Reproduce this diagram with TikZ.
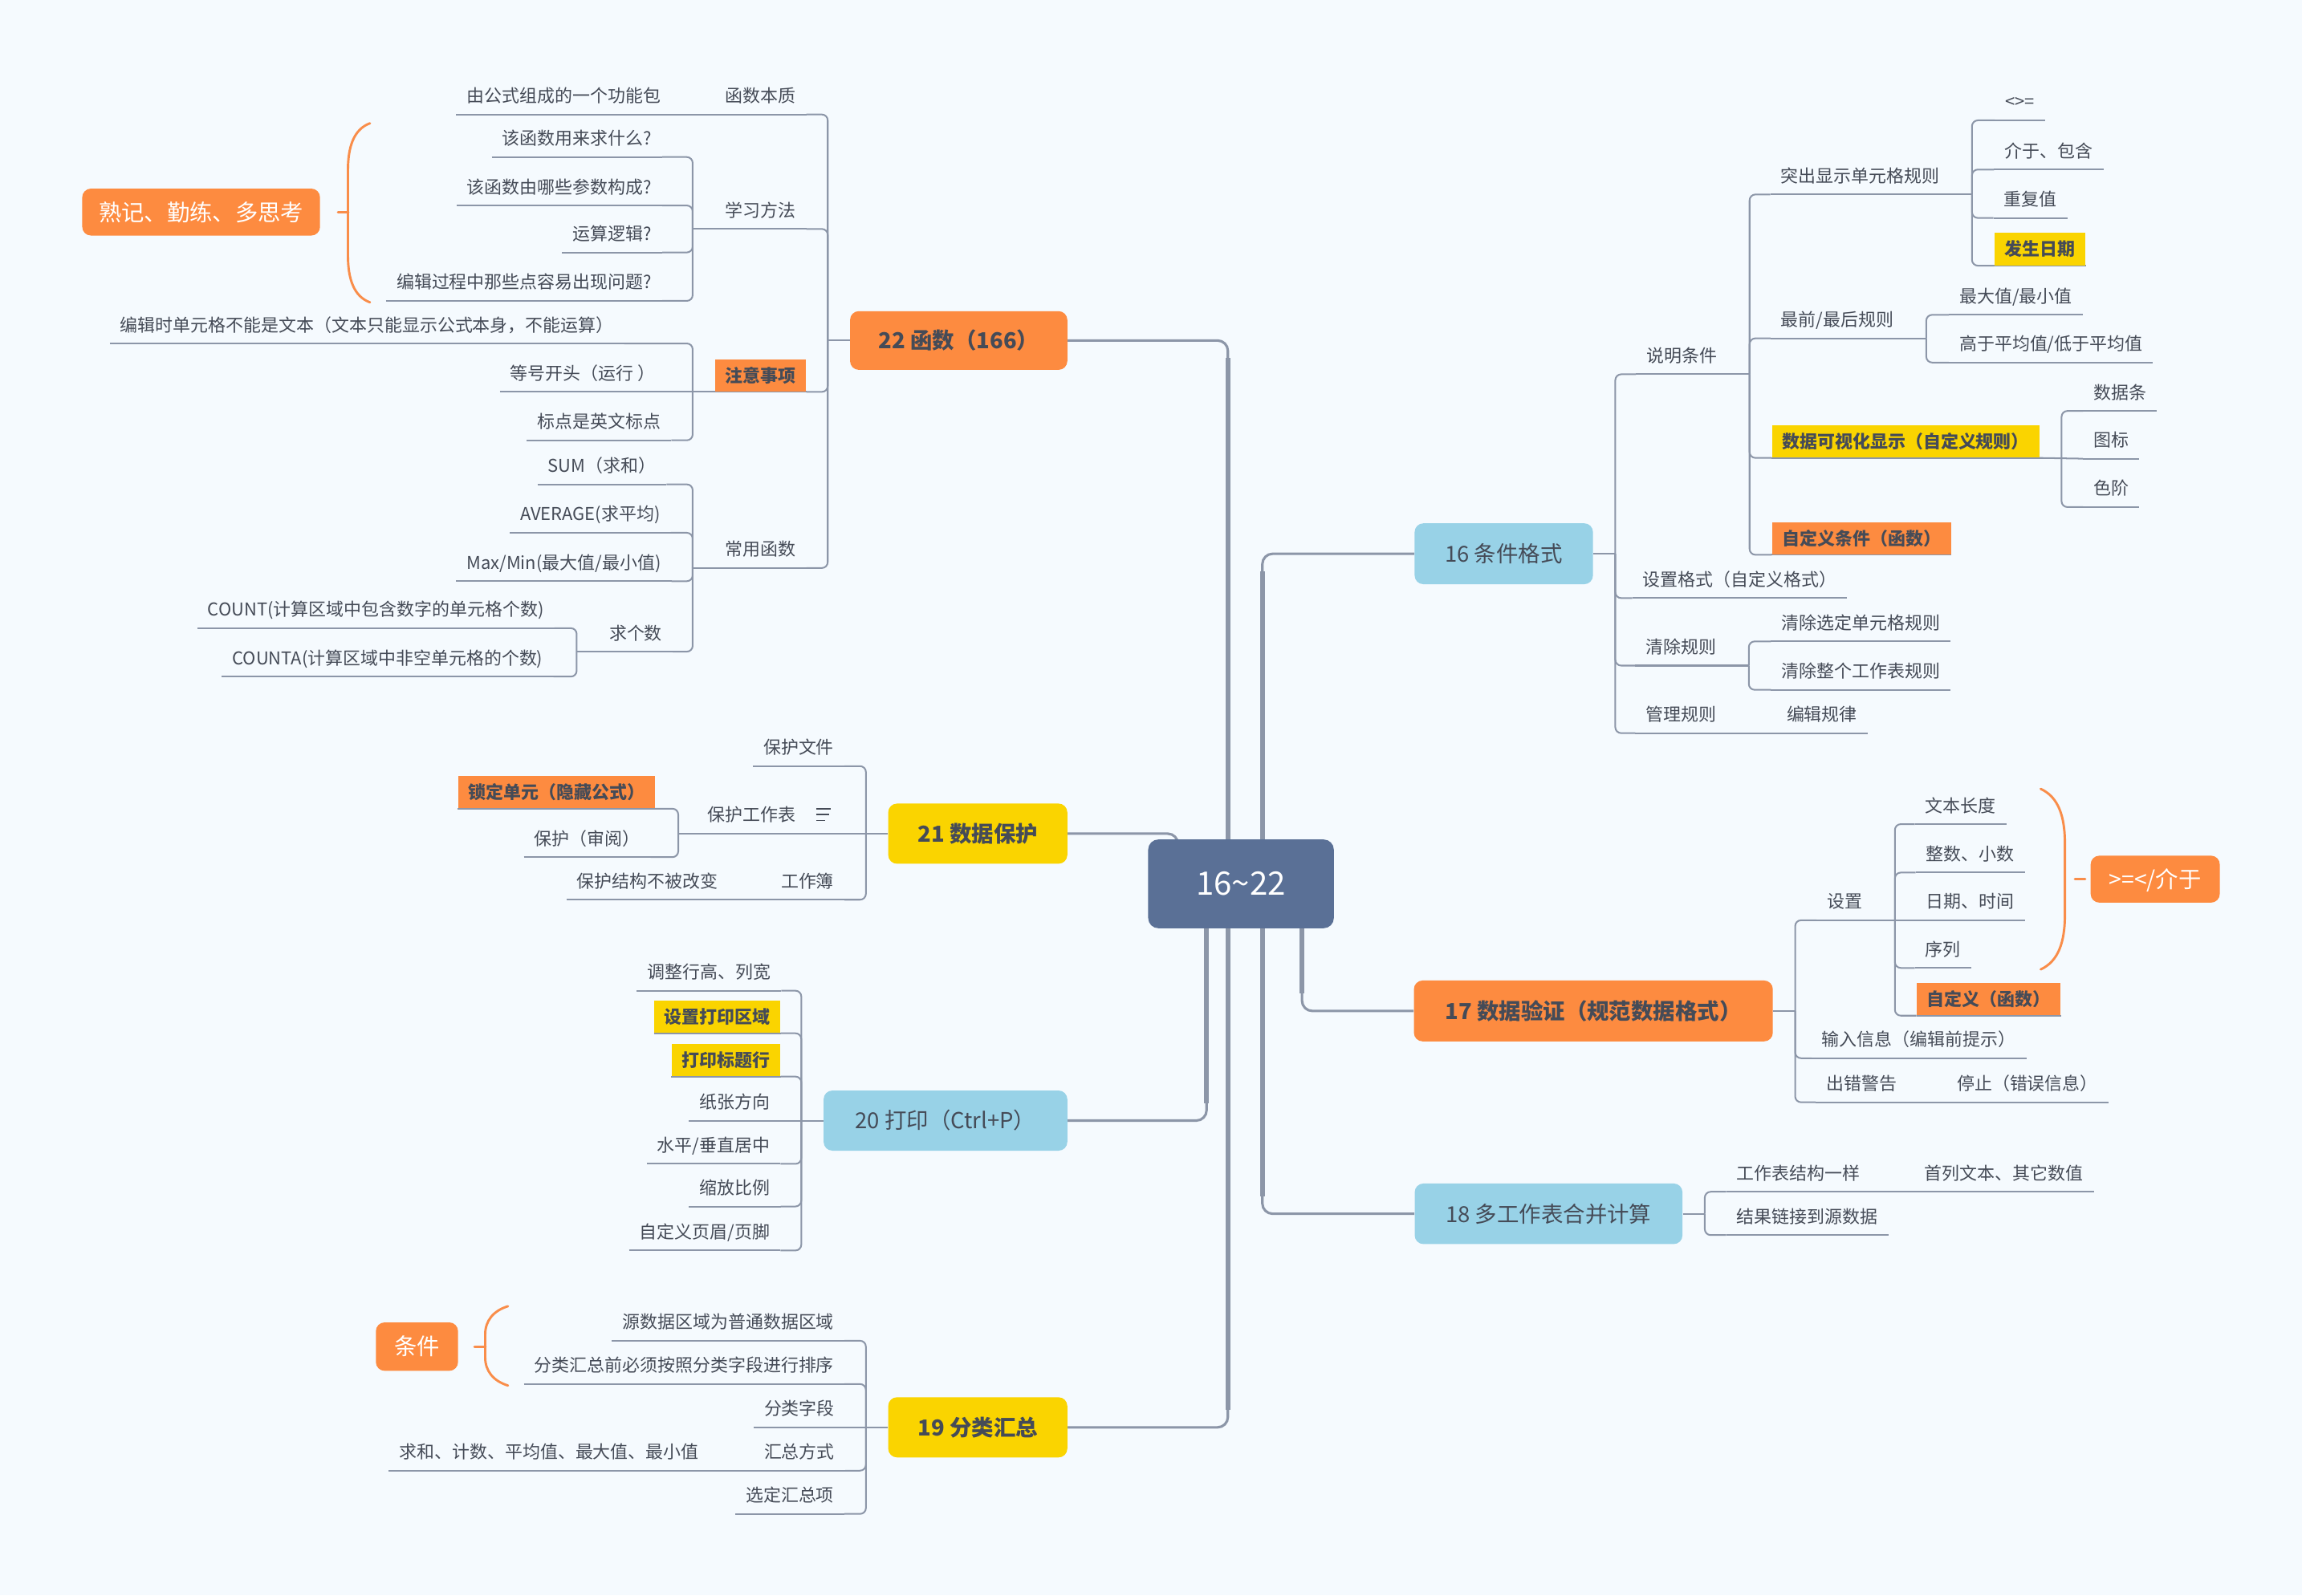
\documentclass[tikz,border=0pt]{standalone}
\usepackage{fontspec}
\setmainfont{Noto Sans CJK SC}
\usetikzlibrary{calc}
\pgfdeclarelayer{bg}
\pgfdeclarelayer{lines}
\pgfsetlayers{bg,lines,main}
\definecolor{bgc}{HTML}{F5FAFE}
\definecolor{linec}{HTML}{8C96A8}
\definecolor{txt}{HTML}{454B57}
\definecolor{orc}{HTML}{FD8B40}
\definecolor{yec}{HTML}{FAD400}
\definecolor{blc}{HTML}{98D2E7}
\definecolor{slc}{HTML}{5A7096}
\definecolor{brc}{HTML}{F98D4A}
\tikzset{
  topic/.style={anchor=south, text=txt, font=\fontsize{12}{14}\selectfont, inner xsep=7pt, inner ysep=6pt, text height=11.2pt, text depth=2pt},
  hlo/.style={fill=orc, font=\fontsize{12}{14}\selectfont\bfseries, inner ysep=4.4pt},
  hly/.style={hlo, fill=yec},
  ul/.style={draw=linec, line width=1.1pt},
  conn/.style={draw=linec, line width=1.1pt, rounded corners=4pt},
  trunk/.style={draw=linec, line width=1.7pt, rounded corners=7pt},
  trunkv/.style={draw=linec, line width=3.2pt},
  mb/.style={rounded corners=6pt, inner sep=0pt, text=txt, font=\fontsize{15}{18}\selectfont, text height=14pt, text depth=2.6pt},
  mbb/.style={mb, font=\fontsize{15}{18}\selectfont\bfseries},
  wb/.style={rounded corners=6pt, fill=orc, text=white, inner sep=0pt, font=\fontsize{15.5}{18}\selectfont, text height=14.4pt, text depth=2.6pt},
  cbox/.style={rounded corners=7pt, fill=slc, text=white, inner sep=0pt, font=\fontsize{22}{26}\selectfont, text height=19pt, text depth=3.2pt},
  brk/.style={draw=brc, line width=1.6pt, line cap=round},
}
\newcommand\mtp[5][]{%
  \node[topic,#1] (#2) at (#3,#4) {#5};
  \begin{pgfonlayer}{lines}\draw[ul] (#2.south west) -- (#2.south east);\end{pgfonlayer}}
% left / right connectors from a text topic
\newcommand\lnL[2]{\draw[conn] (#1.south west) -- ++(-15,0);
  \foreach \k in {#2}{\draw[conn] (#1.south west) ++(-15,0) |- (\k.south east);}}
\newcommand\lnR[2]{\draw[conn] (#1.south east) -- ++(15,0);
  \foreach \k in {#2}{\draw[conn] (#1.south east) ++(15,0) |- (\k.south west);}}
% from a main box
\newcommand\lbL[2]{\draw[conn] (#1.west) -- ++(-15,0);
  \foreach \k in {#2}{\draw[conn] (#1.west) ++(-15,0) |- (\k.south east);}}
\newcommand\lbR[2]{\draw[conn] (#1.east) -- ++(15,0);
  \foreach \k in {#2}{\draw[conn] (#1.east) ++(15,0) |- (\k.south west);}}
% straight continuations
\newcommand\lsL[2]{\draw[conn] (#1.south west) -- (#2.south east);}
\newcommand\lsR[2]{\draw[conn] (#1.south east) -- (#2.south west);}
\newcommand\lsbL[2]{\draw[conn] (#1.west) -- (#2.south east);}
\newcommand\lsbR[2]{\draw[conn] (#1.east) -- (#2.south west);}

\begin{document}
\begin{tikzpicture}[x=1pt,y=-1pt]
\useasboundingbox (0,0) rectangle (1568,1087);
\begin{pgfonlayer}{bg}
\fill[bgc] (0,0) rectangle (1568,1087);
\end{pgfonlayer}

% ---------- central and main topics ----------
\node[cbox, minimum width=126.5pt, minimum height=60.5pt] (c) at (845.3,602.2) {16\textasciitilde22};
\node[mbb, fill=orc, minimum width=148pt, minimum height=40pt] (f22) at (653,232) {22 函数（166）};
\node[mbb, fill=yec, minimum width=122pt, minimum height=41pt] (d21) at (666,568) {21 数据保护};
\node[mb, fill=blc, minimum width=166pt, minimum height=41pt] (p20) at (644,763.5) {20 打印（Ctrl+P）};
\node[mbb, fill=yec, minimum width=122pt, minimum height=41pt] (s19) at (666,972.5) {19 分类汇总};
\node[mb, fill=blc, minimum width=121.5pt, minimum height=41.5pt] (c16) at (1024.3,377.3) {16 条件格式};
\node[mbb, fill=orc, minimum width=244.5pt, minimum height=41.5pt] (v17) at (1085.3,688.8) {17 数据验证（规范数据格式）};
\node[mb, fill=blc, minimum width=182.4pt, minimum height=41.3pt] (m18) at (1054.8,827) {18 多工作表合并计算};

% ---------- 22 函数 ----------
\mtp{hsbz}{518}{78}{函数本质}
\mtp{gnb}{384}{78}{由公式组成的一个功能包}
\mtp{xxff}{518}{156}{学习方法}
\mtp{xa}{393}{107}{该函数用来求什么?}
\mtp{xb}{381}{140}{该函数由哪些参数构成?}
\mtp{xc}{417}{172}{运算逻辑?}
\mtp{xd}{357}{205}{编辑过程中那些点容易出现问题?}
\mtp[hlo]{zysx}{518}{267}{注意事项}
\mtp{za}{250}{234}{编辑时单元格不能是文本（文本只能显示公式本身，不能运算）}
\mtp{zb}{397}{267}{等号开头（运行 ）}
\mtp{zc}{408}{300}{标点是英文标点}
\mtp{cyhs}{518}{387}{常用函数}
\mtp{ha}{410}{330}{SUM（求和）}
\mtp{hb}{402}{363}{AVERAGE(求平均)}
\mtp{hc}{384}{396}{Max/Min(最大值/最小值)}
\mtp{qgs}{433}{444}{求个数}
\mtp{qa}{256}{428}{COUNT(计算区域中包含数字的单元格个数)}
\mtp{qb}{264}{461}{COUNTA(计算区域中非空单元格的个数)}
\node[wb, minimum width=162pt, minimum height=32pt] (sj) at (137,144.5) {熟记、勤练、多思考};

% ---------- 21 数据保护 ----------
\mtp{bhwj}{544}{522}{保护文件}
\node[topic, anchor=south west, inner xsep=5pt] (pw) at (477,568) {保护工作表\hspace{24pt}};
\begin{pgfonlayer}{lines}\draw[ul] (pw.south west) -- (pw.south east);\end{pgfonlayer}
\draw[txt, line width=1pt] ($(pw.south west)+(79,-17)$) -- ++(10,0)
  ($(pw.south west)+(79,-13)$) -- ++(9,0)
  ($(pw.south west)+(79,-9)$) -- ++(6,0);
\mtp[hlo]{sddy}{379}{551}{锁定单元（隐藏公式）}
\mtp{bhsy}{400}{584}{保护（审阅）}
\mtp{gzb}{550}{613}{工作簿}
\mtp{bhjg}{441}{613}{保护结构不被改变}

% ---------- 20 打印 ----------
\mtp{dz}{483}{675}{调整行高、列宽}
\mtp[hly]{szqy}{488.5}{704}{设置打印区域}
\mtp[hly]{btxh}{494.5}{733.5}{打印标题行}
\mtp{zzfx}{500.5}{763.5}{纸张方向}
\mtp{spcz}{486}{793}{水平/垂直居中}
\mtp{sfbl}{500.5}{822}{缩放比例}
\mtp{ymyj}{480}{852}{自定义页眉/页脚}

% ---------- 19 分类汇总 ----------
\mtp{ysj}{496}{913.5}{源数据区域为普通数据区域}
\mtp{flhz}{466}{943}{分类汇总前必须按照分类字段进行排序}
\mtp{flzd}{544.5}{972.5}{分类字段}
\mtp{hzfs}{544.5}{1002}{汇总方式}
\mtp{qh}{374}{1002}{求和、计数、平均值、最大值、最小值}
\mtp{xdhz}{538}{1031.5}{选定汇总项}
\node[wb, minimum width=56pt, minimum height=33pt] (tj) at (284,917.5) {条件};

% ---------- 16 条件格式 ----------
\mtp{smtj}{1145.5}{255}{说明条件}
\mtp{tcxs}{1267}{132.5}{突出显示单元格规则}
\mtp{ra}{1376}{82}{<>=}
\mtp{rb}{1395.5}{115.5}{介于、包含}
\mtp{rc}{1383}{148.5}{重复值}
\mtp[hly]{rd}{1389.5}{181}{发生日期}
\mtp{zqzh}{1251.5}{230.5}{最前/最后规则}
\mtp{ma}{1373}{214.5}{最大值/最小值}
\mtp{mbx}{1397}{247}{高于平均值/低于平均值}
\mtp[hly]{sjks}{1298}{312}{数据可视化显示（自定义规则）}
\mtp{ka}{1444}{280}{数据条}
\mtp{kb}{1438}{312.5}{图标}
\mtp{kc}{1438}{345.5}{色阶}
\mtp[hlo]{zdytj}{1268}{378}{自定义条件（函数）}
\mtp{szgs}{1185}{407.5}{设置格式（自定义格式）}
\mtp{qcgz}{1145}{453.5}{清除规则}
\mtp{qca}{1267.5}{437}{清除选定单元格规则}
\mtp{qcb}{1267.5}{470}{清除整个工作表规则}
\mtp{glgz}{1145}{499.5}{管理规则}
\mtp{bjgl}{1241}{499.5}{编辑规律}

% ---------- 17 数据验证 ----------
\mtp{sz}{1256.5}{627}{设置}
\mtp{ya}{1335.5}{561.5}{文本长度}
\mtp{yb}{1342}{594.5}{整数、小数}
\mtp{yc}{1342}{627}{日期、时间}
\mtp{yd}{1323.5}{659.5}{序列}
\mtp[hlo]{ye}{1354.5}{692}{自定义（函数）}
\mtp{srxx}{1307}{721}{输入信息（编辑前提示）}
\mtp{cwjg}{1268}{751}{出错警告}
\mtp{tz}{1381}{751}{停止（错误信息）}
\node[wb, minimum width=88pt, minimum height=32pt] (jy) at (1468,599) {>=</介于};

% ---------- 18 多工作表合并计算 ----------
\mtp{gzbjg}{1225}{812}{工作表结构一样}
\mtp{slwb}{1365}{812}{首列文本、其它数值}
\mtp{jglj}{1231}{841.5}{结果链接到源数据}

% ---------- connectors ----------
\begin{pgfonlayer}{lines}
\coordinate (cu22) at ($(c.north west)+(54.5,20)$);
\coordinate (cu21) at ($(c.north west)+(20.5,20)$);
\coordinate (cu16) at ($(c.north west)+(78,20)$);
\coordinate (cd20) at ($(c.south west)+(40,-20)$);
\coordinate (cd19) at ($(c.south west)+(54.5,-20)$);
\coordinate (cd18) at ($(c.south west)+(78,-20)$);
\coordinate (cd17) at ($(c.south west)+(105,-20)$);
\coordinate (k22) at (cu22 |- f22.east);
\coordinate (k16) at (cu16 |- c16.west);
\coordinate (k20) at (cd20 |- p20.east);
\coordinate (k19) at (cd19 |- s19.east);
\coordinate (k18) at (cd18 |- m18.west);
\coordinate (k17) at (cd17 |- v17.west);
\draw[trunk] (cu22) |- (f22.east);
\draw[trunk] (d21.east) -| (cu21);
\draw[trunk] (cu16) |- (c16.west);
\draw[trunk] (cd20) |- (p20.east);
\draw[trunk] (cd19) |- (s19.east);
\draw[trunk] (cd18) |- (m18.west);
\draw[trunk] (cd17) |- (v17.west);
\draw[trunkv] (cu22) -- ($(k22)+(0,12)$);
\draw[trunkv] (cu16) -- ($(k16)+(0,12)$);
\draw[trunkv] (cd20) -- ($(k20)+(0,-12)$);
\draw[trunkv] (cd19) -- ($(k19)+(0,-12)$);
\draw[trunkv] (cd18) -- ($(k18)+(0,-12)$);
\draw[trunkv] (cd17) -- ($(k17)+(0,-12)$);

% 22
\lbL{f22}{hsbz,xxff,zysx,cyhs}
\lsL{hsbz}{gnb}
\lnL{xxff}{xa,xb,xc,xd}
\lnL{zysx}{za,zc}
\lsL{zysx}{zb}
\lnL{cyhs}{ha,hb,hc,qgs}
\lnL{qgs}{qa,qb}
% 21
\lbL{d21}{bhwj,gzb}
\lsbL{d21}{pw}
\lnL{pw}{sddy,bhsy}
\lsL{gzb}{bhjg}
% 20
\lbL{p20}{dz,szqy,btxh,spcz,sfbl,ymyj}
\lsbL{p20}{zzfx}
% 19
\lbL{s19}{ysj,flhz,hzfs,xdhz}
\lsbL{s19}{flzd}
\lsL{hzfs}{qh}
% 16
\lbR{c16}{smtj,szgs,qcgz,glgz}
\lnR{smtj}{tcxs,zqzh,sjks,zdytj}
\lnR{tcxs}{ra,rb,rc,rd}
\lnR{zqzh}{ma,mbx}
\lnR{sjks}{ka,kc}
\lsR{sjks}{kb}
\lnR{qcgz}{qca,qcb}
\lsR{glgz}{bjgl}
% 17
\lbR{v17}{sz,srxx,cwjg}
\lnR{sz}{ya,yb,yd,ye}
\lsR{sz}{yc}
\lsR{cwjg}{tz}
% 18
\lbR{m18}{gzbjg,jglj}
\lsR{gzbjg}{slwb}
\end{pgfonlayer}

% ---------- summary brackets ----------
\draw[brk] (252,84) .. controls (241,88) and (237,100) .. (237,116) -- (237,174) .. controls (237,190) and (241,202) .. (252,206);
\draw[brk] (sj.east) ++(12,0) -- ++(7,0);
\draw[brk] (346,890) .. controls (336,893) and (330.5,900) .. (330.5,909) -- (330.5,925) .. controls (330.5,934) and (336,941) .. (346,944);
\draw[brk] (tj.east) ++(11,0) -- ++(7.5,0);
\draw[brk] (1390,537.5) .. controls (1402,543) and (1406.5,556) .. (1406.5,575) -- (1406.5,623) .. controls (1406.5,642) and (1402,655) .. (1390,660.5);
\draw[brk] (jy.west) ++(-10.5,0) -- ++(7,0);
\end{tikzpicture}
\end{document}
